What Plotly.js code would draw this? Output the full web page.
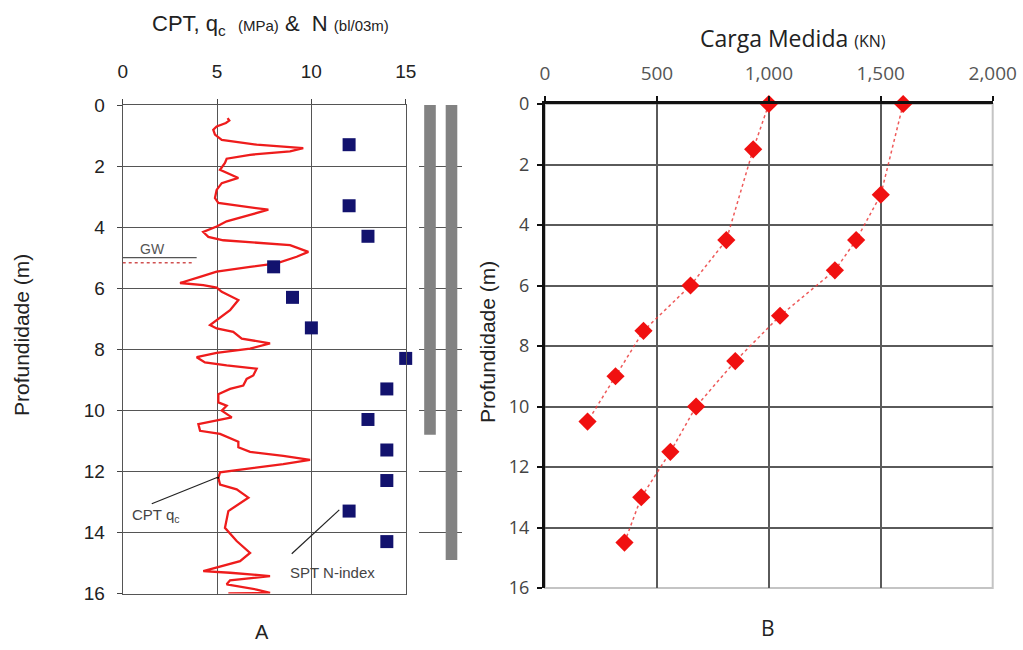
<!DOCTYPE html>
<html>
<head>
<meta charset="utf-8">
<script src="https://cdn.plot.ly/plotly-3.0.1.min.js"></script>
<style>
  html, body { margin: 0; padding: 0; background: #fff; }
  #chart { width: 1023px; height: 650px; }
</style>
</head>
<body>
<div id="chart"></div>
<script>
// Panel A: CPT cone resistance profile (MPa) against depth (m)
const cptDepth = [0.43, 0.51, 0.59, 0.70, 0.81, 0.97, 1.14, 1.30, 1.41, 1.52, 1.63, 1.76, 1.90, 2.12,
  2.39, 2.56, 2.78, 3.05, 3.21, 3.32, 3.43, 3.60, 3.81, 3.98, 4.16, 4.32, 4.43, 4.59, 4.81, 4.97,
  5.19, 5.30, 5.46, 5.63, 5.83, 5.90, 5.98, 6.12, 6.39, 6.72, 7.21, 7.32, 7.43, 7.65, 7.81, 7.98,
  8.12, 8.26, 8.43, 8.53, 8.64, 8.86, 8.97, 9.19, 9.30, 9.47, 9.74, 9.85, 10.01, 10.23, 10.34,
  10.45, 10.67, 10.77, 11.03, 11.21, 11.36, 11.49, 11.62, 11.76, 12.03, 12.21, 12.43, 12.59,
  12.86, 13.30, 13.85, 14.28, 14.67, 14.94, 15.27, 15.32, 15.43, 15.57, 15.70, 15.87, 15.98, 16.0];
const cptQc = [5.56, 5.65, 5.47, 4.98, 4.80, 4.89, 5.25, 7.10, 9.57, 8.87, 6.75, 5.51, 5.42, 5.16,
  6.13, 5.25, 4.98, 4.89, 5.07, 6.39, 7.72, 6.75, 5.51, 4.98, 4.27, 4.54, 5.33, 8.87, 9.84, 9.22,
  8.16, 6.75, 4.98, 4.10, 3.04, 4.27, 4.98, 5.25, 6.13, 5.69, 4.63, 4.98, 5.86, 6.31, 7.81, 6.75,
  4.98, 3.92, 4.36, 5.51, 7.10, 6.92, 6.57, 6.39, 5.69, 5.07, 5.07, 5.51, 5.25, 5.78, 4.98,
  4.01, 4.10, 5.16, 6.13, 6.13, 6.75, 8.51, 9.93, 8.51, 5.16, 5.07, 5.16, 6.04,
  6.66, 5.60, 5.42, 6.04, 6.75, 6.22, 4.27, 5.69, 7.81, 5.69, 5.51, 7.10, 7.81, 5.6];

// Panel A: SPT blow counts
const sptDepth = [1.3, 3.3, 4.3, 5.3, 6.3, 7.3, 8.3, 9.3, 10.3, 11.3, 12.3, 13.3, 14.3];
const sptN = [12, 12, 13, 8, 9, 10, 15, 14, 13, 14, 14, 12, 14];

// Panel A: pile lengths (m) and groundwater level (m)
const pileNames = ['P1', 'P2'];
const pileLength = [10.8, 14.9];
const gwDepth = 5.0;

// Panel B: measured load (kN) along each pile
const loadDepth1 = [0, 1.5, 4.5, 6, 7.5, 9, 10.5];
const load1 = [1000, 930, 810, 650, 440, 315, 190];
const loadDepth2 = [0, 3, 4.5, 5.5, 7, 8.5, 10, 11.5, 13, 14.5];
const load2 = [1600, 1500, 1390, 1295, 1050, 850, 675, 560, 430, 355];

const W = 1023, H = 650;
const px = v => v / W;
const py = v => 1 - v / H;

const ARIAL = 'Liberation Sans, Arial, sans-serif';
const OPEN = 'Open Sans, sans-serif';

const traces = [
  {
    x: cptQc, y: cptDepth, xaxis: 'x', yaxis: 'y', type: 'scatter', mode: 'lines',
    line: { color: '#ee1c1c', width: 2.3 }, hoverinfo: 'skip'
  },
  {
    x: sptN, y: sptDepth, xaxis: 'x', yaxis: 'y', type: 'scatter', mode: 'markers',
    marker: { symbol: 'square', size: 13, color: '#12126e' }, cliponaxis: false
  },
  {
    x: pileNames, y: pileLength, base: [0, 0], xaxis: 'x3', yaxis: 'y', type: 'bar',
    width: 0.54, marker: { color: '#828282', line: { width: 0 } }
  },
  {
    x: load1, y: loadDepth1, xaxis: 'x2', yaxis: 'y2', type: 'scatter', mode: 'lines+markers',
    line: { color: 'rgba(235,60,60,0.85)', width: 1.5, dash: 'dot' },
    marker: { symbol: 'diamond', size: 14, color: '#f01010' }, cliponaxis: false
  },
  {
    x: load2, y: loadDepth2, xaxis: 'x2', yaxis: 'y2', type: 'scatter', mode: 'lines+markers',
    line: { color: 'rgba(235,60,60,0.85)', width: 1.5, dash: 'dot' },
    marker: { symbol: 'diamond', size: 14, color: '#f01010' }, cliponaxis: false
  }
];

// centred text placed in canvas pixels
const label = (x, y, text, font, extra) => Object.assign({
  xref: 'paper', yref: 'paper', x: px(x), y: py(y), xanchor: 'center', yanchor: 'middle',
  showarrow: false, text: text, font: font
}, extra || {});

const layout = {
  width: W, height: H,
  margin: { l: 0, r: 0, t: 0, b: 0, pad: 0 },
  paper_bgcolor: '#fff', plot_bgcolor: 'rgba(0,0,0,0)',
  showlegend: false,
  xaxis: {
    domain: [px(122.7), px(405.7)], range: [0, 15], side: 'top', anchor: 'y',
    tickvals: [0, 5, 10, 15], ticks: 'outside', ticklen: 5, tickcolor: '#444',
    showgrid: true, gridcolor: '#555', gridwidth: 1,
    showline: true, linecolor: '#555', linewidth: 1, mirror: true,
    zeroline: false, ticklabelstandoff: 13,
    tickfont: { family: ARIAL, size: 19, color: '#222' }, automargin: false
  },
  yaxis: {
    domain: [py(593.5), py(105)], range: [16, 0], anchor: 'x',
    tickvals: [0, 2, 4, 6, 8, 10, 12, 14, 16], ticks: 'outside', ticklen: 5, tickcolor: '#444',
    showgrid: true, gridcolor: '#555', gridwidth: 1,
    showline: true, linecolor: '#555', linewidth: 1, mirror: true,
    zeroline: false, ticklabelstandoff: 8,
    tickfont: { family: ARIAL, size: 19, color: '#222' }, automargin: false
  },
  xaxis3: {
    domain: [px(419.25), px(462.25)], range: [-0.5, 1.5], anchor: 'y',
    visible: false, type: 'category'
  },
  xaxis2: {
    domain: [px(545), px(992.7)], range: [0, 2000], side: 'top', anchor: 'y2',
    tickvals: [0, 500, 1000, 1500, 2000], ticktext: ['0', '500', '1,000', '1,500', '2,000'],
    ticks: 'outside', ticklen: 5, tickwidth: 2, tickcolor: '#111',
    showgrid: true, gridcolor: '#5a5a5a', gridwidth: 2,
    showline: true, linecolor: '#111', linewidth: 3,
    zeroline: false, ticklabelstandoff: 8,
    tickfont: { family: OPEN, size: 19, color: '#555' }, automargin: false
  },
  yaxis2: {
    domain: [py(588), py(104)], range: [16, 0], anchor: 'x2',
    tickvals: [0, 2, 4, 6, 8, 10, 12, 14, 16], ticks: 'outside', ticklen: 5, tickwidth: 2, tickcolor: '#111',
    showgrid: true, gridcolor: '#5a5a5a', gridwidth: 2,
    showline: true, linecolor: '#111', linewidth: 3,
    zeroline: false, ticklabelstandoff: 4,
    tickfont: { family: OPEN, size: 18, color: '#444' }, automargin: false
  },
  shapes: [
    // light outer frame of panel B
    { type: 'rect', xref: 'x2 domain', yref: 'y2 domain', x0: 0, x1: 1, y0: 0, y1: 1,
      line: { color: '#c4c4c4', width: 2 }, layer: 'below' },
    // groundwater marker
    { type: 'line', xref: 'x', yref: 'y', x0: 0, x1: 3.92, y0: gwDepth, y1: gwDepth,
      line: { color: '#555', width: 1.2 } },
    { type: 'line', xref: 'x', yref: 'y', x0: 0, x1: 3.7, y0: gwDepth + 0.17, y1: gwDepth + 0.17,
      line: { color: '#d05050', width: 1.5, dash: 'dot' } },
    // leader lines for the series labels
    { type: 'line', xref: 'x', yref: 'y', x0: 1.54, y0: 13.06, x1: 5.0, y1: 12.2,
      line: { color: '#222', width: 1.2 } },
    { type: 'line', xref: 'x', yref: 'y', x0: 8.96, y0: 14.70, x1: 11.48, y1: 13.26,
      line: { color: '#222', width: 1.2 } }
  ],
  annotations: [
    label(270, 25,
      'CPT, q<sub>c</sub>  <span style="font-size:15px">(MPa)</span> &  N <span style="font-size:15px">(bl/03m)</span>',
      { family: ARIAL, size: 22, color: '#222' }),
    label(793, 38, 'Carga Medida <span style="font-size:16px">(KN)</span>',
      { family: OPEN, size: 23, color: '#222' }),
    label(22, 335, 'Profundidade (m)', { family: ARIAL, size: 21, color: '#222' }, { textangle: -90 }),
    label(487, 342, 'Profundidade (m)', { family: ARIAL, size: 21, color: '#222' }, { textangle: -90 }),
    { xref: 'x', yref: 'y', x: 1.56, y: 4.72, showarrow: false, text: 'GW',
      font: { family: ARIAL, size: 14, color: '#555' } },
    { xref: 'x', yref: 'y', x: 5.0, y: 12.2, showarrow: false, text: '●',
      font: { family: ARIAL, size: 5, color: '#111' } },
    { xref: 'x', yref: 'y', x: 1.75, y: 13.44, showarrow: false, text: 'CPT q<sub>c</sub>',
      font: { family: ARIAL, size: 15, color: '#444' } },
    { xref: 'x', yref: 'y', x: 11.14, y: 15.31, showarrow: false, text: 'SPT N-index',
      font: { family: ARIAL, size: 15, color: '#444' } },
    label(262, 632, 'A', { family: ARIAL, size: 20, color: '#222' }),
    label(768, 628, 'B', { family: OPEN, size: 21, color: '#222' })
  ]
};

Plotly.newPlot('chart', traces, layout, { displayModeBar: false, staticPlot: true });
</script>
</body>
</html>
